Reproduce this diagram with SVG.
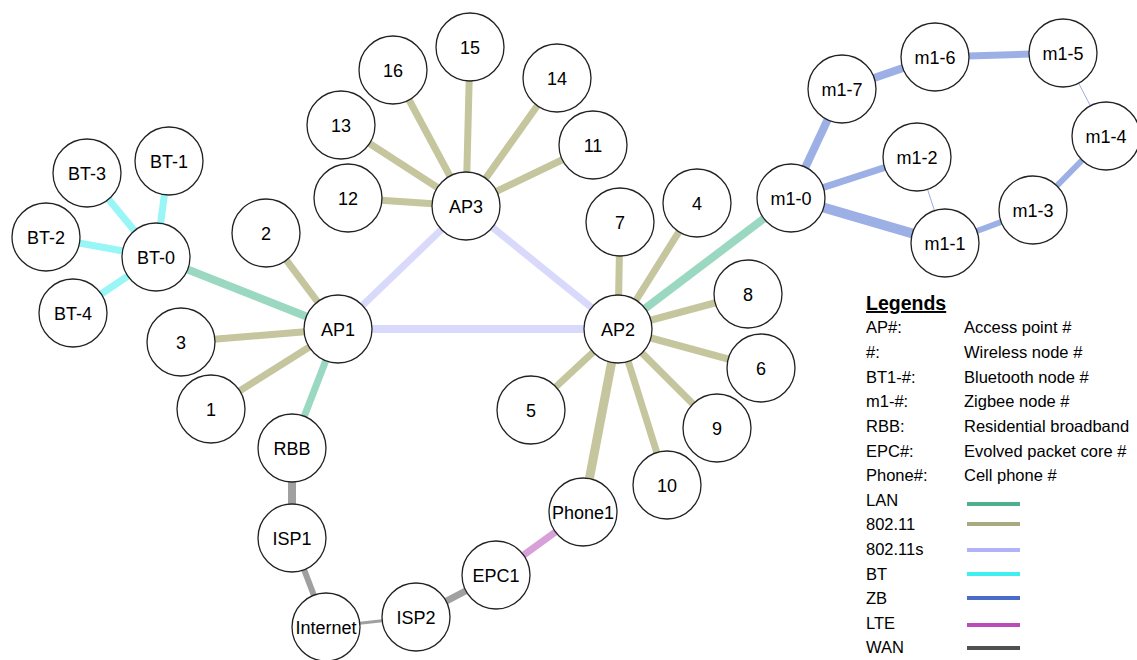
<svg xmlns="http://www.w3.org/2000/svg" width="1137" height="660" viewBox="0 0 1137 660">
<style>
.n circle{fill:#fff;stroke:#222;stroke-width:1.3}
.n text{font-family:"Liberation Sans",Arial,sans-serif;font-size:18px;text-anchor:middle;fill:#000}
.lan{stroke:#9bd8c2}
.w{stroke:#c5c59e}
.ws{stroke:#d9d9fb}
.bt{stroke:#99f6f6}
.zb{stroke:#9cb0e6}
.lte{stroke:#d8a0d8}
.wan{stroke:#a0a0a0}
.lg{font-family:"Liberation Sans",Arial,sans-serif;font-size:16.5px;fill:#000}
.lgt{font-family:"Liberation Sans",Arial,sans-serif;font-size:19.5px;font-weight:bold;fill:#000;text-decoration:underline}
</style>
<rect width="1137" height="660" fill="#fff"/>
<g id="connectors" fill="none" stroke-width="7">
<line class="bt" x1="156" y1="257" x2="169" y2="161"/>
<line class="bt" x1="156" y1="257" x2="46" y2="237"/>
<line class="bt" x1="156" y1="257" x2="87" y2="173"/>
<line class="bt" x1="156" y1="257" x2="73" y2="313"/>
<line class="lan" x1="156" y1="257" x2="338" y2="329" stroke-width="8"/>
<line class="w" x1="338" y1="329" x2="266" y2="233"/>
<line class="w" x1="338" y1="329" x2="181" y2="342"/>
<line class="w" x1="338" y1="329" x2="211" y2="409"/>
<line class="lan" x1="338" y1="329" x2="292" y2="448"/>
<line class="ws" x1="338" y1="329" x2="466" y2="206"/>
<line class="ws" x1="338" y1="329" x2="618" y2="329" stroke-width="8"/>
<line class="ws" x1="466" y1="206" x2="618" y2="329"/>
<line class="w" x1="466" y1="206" x2="348" y2="198"/>
<line class="w" x1="466" y1="206" x2="341" y2="125"/>
<line class="w" x1="466" y1="206" x2="393" y2="70"/>
<line class="w" x1="466" y1="206" x2="470" y2="47"/>
<line class="w" x1="466" y1="206" x2="557" y2="78"/>
<line class="w" x1="466" y1="206" x2="593" y2="145"/>
<line class="w" x1="618" y1="329" x2="620" y2="222"/>
<line class="w" x1="618" y1="329" x2="697" y2="203"/>
<line class="w" x1="618" y1="329" x2="748" y2="294"/>
<line class="w" x1="618" y1="329" x2="761" y2="368"/>
<line class="w" x1="618" y1="329" x2="717" y2="428"/>
<line class="w" x1="618" y1="329" x2="667" y2="485"/>
<line class="w" x1="618" y1="329" x2="531" y2="410"/>
<line class="w" x1="618" y1="329" x2="583" y2="512" stroke-width="9"/>
<line class="lan" x1="618" y1="329" x2="791" y2="198" stroke-width="8"/>
<line class="zb" x1="791" y1="198" x2="945" y2="243" stroke-width="10"/>
<line class="zb" x1="791" y1="198" x2="917" y2="157"/>
<line class="zb" x1="791" y1="198" x2="842" y2="89" stroke-width="8"/>
<line class="zb" x1="842" y1="89" x2="935" y2="57" stroke-width="8"/>
<line class="zb" x1="935" y1="57" x2="1063" y2="53"/>
<line class="zb" x1="1063" y1="53" x2="1106" y2="136" stroke-width="1"/>
<line class="zb" x1="1106" y1="136" x2="1033" y2="210" stroke-width="6"/>
<line class="zb" x1="1033" y1="210" x2="945" y2="243" stroke-width="6"/>
<line class="zb" x1="917" y1="157" x2="945" y2="243" stroke-width="1"/>
<line class="wan" x1="292" y1="448" x2="292" y2="538" stroke-width="8"/>
<line class="wan" x1="292" y1="538" x2="326" y2="627" stroke-width="6"/>
<line class="wan" x1="326" y1="627" x2="416" y2="617" stroke-width="3"/>
<line class="wan" x1="416" y1="617" x2="496" y2="575"/>
<line class="lte" x1="496" y1="575" x2="583" y2="512"/>
</g>
<g id="AP1" class="n"><circle cx="338" cy="329" r="34"/><text x="338" y="335.5">AP1</text></g>
<g id="AP2" class="n"><circle cx="618" cy="329" r="34"/><text x="618" y="335.5">AP2</text></g>
<g id="AP3" class="n"><circle cx="466" cy="206" r="34"/><text x="466" y="212.5">AP3</text></g>
<g id="n1" class="n"><circle cx="211" cy="409" r="34"/><text x="211" y="415.5">1</text></g>
<g id="n2" class="n"><circle cx="266" cy="233" r="34"/><text x="266" y="239.5">2</text></g>
<g id="n3" class="n"><circle cx="181" cy="342" r="34"/><text x="181" y="348.5">3</text></g>
<g id="n4" class="n"><circle cx="697" cy="203" r="34"/><text x="697" y="209.5">4</text></g>
<g id="n5" class="n"><circle cx="531" cy="410" r="34"/><text x="531" y="416.5">5</text></g>
<g id="n6" class="n"><circle cx="761" cy="368" r="34"/><text x="761" y="374.5">6</text></g>
<g id="n7" class="n"><circle cx="620" cy="222" r="34"/><text x="620" y="228.5">7</text></g>
<g id="n8" class="n"><circle cx="748" cy="294" r="34"/><text x="748" y="300.5">8</text></g>
<g id="n9" class="n"><circle cx="717" cy="428" r="34"/><text x="717" y="434.5">9</text></g>
<g id="n10" class="n"><circle cx="667" cy="485" r="34"/><text x="667" y="491.5">10</text></g>
<g id="n11" class="n"><circle cx="593" cy="145" r="34"/><text x="593" y="151.5">11</text></g>
<g id="n12" class="n"><circle cx="348" cy="198" r="34"/><text x="348" y="204.5">12</text></g>
<g id="n13" class="n"><circle cx="341" cy="125" r="34"/><text x="341" y="131.5">13</text></g>
<g id="n14" class="n"><circle cx="557" cy="78" r="34"/><text x="557" y="84.5">14</text></g>
<g id="n15" class="n"><circle cx="470" cy="47" r="34"/><text x="470" y="53.5">15</text></g>
<g id="n16" class="n"><circle cx="393" cy="70" r="34"/><text x="393" y="76.5">16</text></g>
<g id="BT-0" class="n"><circle cx="156" cy="257" r="34"/><text x="156" y="263.5">BT-0</text></g>
<g id="BT-1" class="n"><circle cx="169" cy="161" r="34"/><text x="169" y="167.5">BT-1</text></g>
<g id="BT-2" class="n"><circle cx="46" cy="237" r="34"/><text x="46" y="243.5">BT-2</text></g>
<g id="BT-3" class="n"><circle cx="87" cy="173" r="34"/><text x="87" y="179.5">BT-3</text></g>
<g id="BT-4" class="n"><circle cx="73" cy="313" r="34"/><text x="73" y="319.5">BT-4</text></g>
<g id="m1-0" class="n"><circle cx="791" cy="198" r="34"/><text x="791" y="204.5">m1-0</text></g>
<g id="m1-1" class="n"><circle cx="945" cy="243" r="34"/><text x="945" y="249.5">m1-1</text></g>
<g id="m1-2" class="n"><circle cx="917" cy="157" r="34"/><text x="917" y="163.5">m1-2</text></g>
<g id="m1-3" class="n"><circle cx="1033" cy="210" r="34"/><text x="1033" y="216.5">m1-3</text></g>
<g id="m1-4" class="n"><circle cx="1106" cy="136" r="34"/><text x="1106" y="142.5">m1-4</text></g>
<g id="m1-5" class="n"><circle cx="1063" cy="53" r="34"/><text x="1063" y="59.5">m1-5</text></g>
<g id="m1-6" class="n"><circle cx="935" cy="57" r="34"/><text x="935" y="63.5">m1-6</text></g>
<g id="m1-7" class="n"><circle cx="842" cy="89" r="34"/><text x="842" y="95.5">m1-7</text></g>
<g id="RBB" class="n"><circle cx="292" cy="448" r="34"/><text x="292" y="454.5">RBB</text></g>
<g id="ISP1" class="n"><circle cx="292" cy="538" r="34"/><text x="292" y="544.5">ISP1</text></g>
<g id="Internet" class="n"><circle cx="326" cy="627" r="34"/><text x="326" y="633.5">Internet</text></g>
<g id="ISP2" class="n"><circle cx="416" cy="617" r="34"/><text x="416" y="623.5">ISP2</text></g>
<g id="EPC1" class="n"><circle cx="496" cy="575" r="34"/><text x="496" y="581.5">EPC1</text></g>
<g id="Phone1" class="n"><circle cx="583" cy="512" r="34"/><text x="583" y="518.5">Phone1</text></g>
<g id="legend">
<text class="lgt" x="866" y="310">Legends</text>
<text class="lg" x="866" y="333">AP#:</text><text class="lg" x="964" y="333">Access point #</text>
<text class="lg" x="866" y="358">#:</text><text class="lg" x="964" y="358">Wireless node #</text>
<text class="lg" x="866" y="383">BT1-#:</text><text class="lg" x="964" y="383">Bluetooth node #</text>
<text class="lg" x="866" y="407">m1-#:</text><text class="lg" x="964" y="407">Zigbee node #</text>
<text class="lg" x="866" y="432">RBB:</text><text class="lg" x="964" y="432">Residential broadband</text>
<text class="lg" x="866" y="457">EPC#:</text><text class="lg" x="964" y="457">Evolved packet core #</text>
<text class="lg" x="866" y="481">Phone#:</text><text class="lg" x="964" y="481">Cell phone #</text>
<text class="lg" x="866" y="506">LAN</text>
<text class="lg" x="866" y="530">802.11</text>
<text class="lg" x="866" y="555">802.11s</text>
<text class="lg" x="866" y="580">BT</text>
<text class="lg" x="866" y="604">ZB</text>
<text class="lg" x="866" y="629">LTE</text>
<text class="lg" x="866" y="653">WAN</text>
<g stroke-width="4">
<line x1="967" y1="504" x2="1020" y2="504" stroke="#50b08e"/>
<line x1="967" y1="524" x2="1020" y2="524" stroke="#a9a982"/>
<line x1="967" y1="550" x2="1020" y2="550" stroke="#b2b2f6"/>
<line x1="967" y1="574" x2="1020" y2="574" stroke="#40f0f0"/>
<line x1="967" y1="598" x2="1020" y2="598" stroke="#4a6cc8"/>
<line x1="967" y1="625" x2="1020" y2="625" stroke="#b84cb8"/>
<line x1="967" y1="648" x2="1020" y2="648" stroke="#505050"/>
</g>
</g>
</svg>
